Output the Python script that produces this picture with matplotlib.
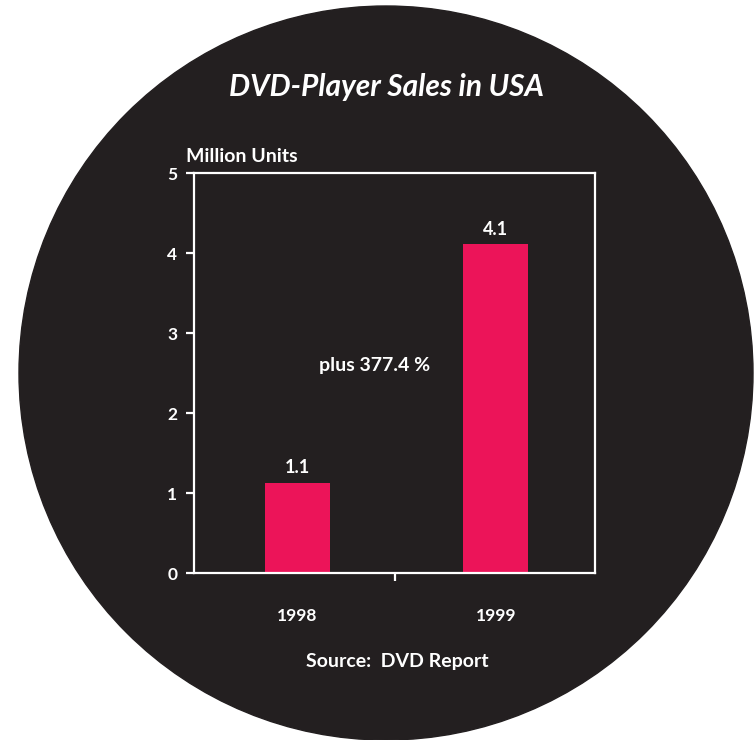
import matplotlib
matplotlib.use('Agg')
import matplotlib.pyplot as plt
from matplotlib.patches import Circle

# Data
years = ['1998', '1999']
sales = [1.13, 4.11]          # million units
value_labels = ['1.1', '4.1']
y_ticks = [0, 1, 2, 3, 4, 5]

bg = '#231f20'
bar_color = '#ec1459'
W, H = 754, 740

plt.rcParams['font.family'] = ['Lato', 'DejaVu Sans']
plt.rcParams['font.weight'] = 'bold'

fig = plt.figure(figsize=(W / 100, H / 100), dpi=100)
fig.patch.set_facecolor('white')

# background circle, in pixel coordinates
back = fig.add_axes([0, 0, 1, 1])
back.set_xlim(0, W)
back.set_ylim(H, 0)
back.axis('off')
back.add_patch(Circle((386, 373), 367, color=bg, zorder=0))

# plot area: x 194-595 px, y 173-573 px
ax = fig.add_axes([194 / W, 1 - 573 / H, (595 - 194) / W, (573 - 173) / H])
ax.set_facecolor('none')
pos = [0.515, 1.505]
ax.bar(pos, sales, width=0.325, color=bar_color, zorder=2)
ax.set_xlim(0, 2)
ax.set_ylim(0, 5)
for s in ax.spines.values():
    s.set_color('white')
    s.set_linewidth(1.6)
ax.set_yticks(y_ticks)
ax.set_yticklabels([str(t) for t in y_ticks])
ax.set_xticks([1])
ax.set_xticklabels([''])
ax.tick_params(colors='white', width=1.6, length=6, labelsize=12.5, pad=6)
ax.tick_params(axis='y', labelcolor='white')

for p, v, lab in zip(pos, sales, value_labels):
    ax.text(p, v + 0.08, lab, color='white', ha='center', va='bottom', fontsize=13)
for p, yr in zip(pos, years):
    ax.text(p, -0.54, yr, color='white', ha='center', va='center', fontsize=12.5)

ax.text(0.9, 2.6, 'plus 377.4 %', color='white', ha='center', va='center', fontsize=14)

fig.text(386 / W, 1 - 87 / H, 'DVD-Player Sales in USA', color='white', ha='center', va='center',
         fontsize=21.5, style='italic')
fig.text(186 / W, 1 - 156 / H, 'Million Units', color='white', ha='left', va='center', fontsize=14)
fig.text(397 / W, 1 - 661 / H, 'Source:  DVD Report', color='white', ha='center', va='center', fontsize=14)

plt.savefig('out.png', dpi=100, facecolor='white')
